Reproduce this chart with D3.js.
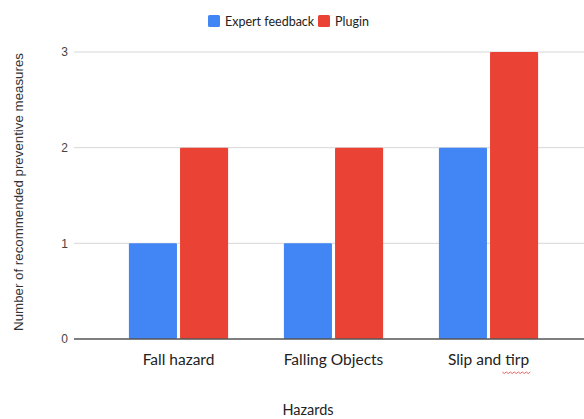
<!DOCTYPE html>
<html>
<head>
<meta charset="utf-8">
<script src="https://cdn.jsdelivr.net/npm/d3@7"></script>
<style>
  html, body { margin: 0; padding: 0; background: #fff; }
  svg { display: block; }
</style>
</head>
<body>
<svg id="chart" width="584" height="419"></svg>
<script>
// Hazard categories and the number of preventive measures per source
const categories = ["Fall hazard", "Falling Objects", "Slip and tirp"];
const seriesNames = ["Expert feedback", "Plugin"];
const expertFeedback = [1, 1, 2];
const plugin = [2, 2, 3];
const yTicks = [0, 1, 2, 3];
const colors = ["#4285F4", "#EA4335"];

const svg = d3.select("#chart");
const W = 584, H = 419;

const y = d3.scaleLinear().domain([0, 3]).range([339, 52]);
const x = d3.scaleBand().domain(categories).range([101, 566]).paddingInner(0.36).paddingOuter(0.18);
const xs = d3.scaleBand().domain(seriesNames).range([0, x.bandwidth()]).paddingInner(0.06);

// Horizontal gridlines
svg.append("g")
  .selectAll("line")
  .data(yTicks.filter(d => d !== 0))
  .join("line")
  .attr("x1", 74).attr("x2", W)
  .attr("y1", d => y(d)).attr("y2", d => y(d))
  .attr("stroke", "#d6d6d6").attr("stroke-width", 1);

// Y tick labels
const yAxis = d3.axisLeft(y).tickValues(yTicks).tickSize(0).tickPadding(0).tickFormat(d3.format("d"));
const gy = svg.append("g").attr("transform", "translate(68,0)").call(yAxis);
gy.select(".domain").remove();
gy.selectAll("text")
  .attr("font-family", "Liberation Sans, Arial, sans-serif")
  .attr("font-size", 12)
  .attr("fill", "#444");

// Bars
const rows = categories.map((c, i) => ({ cat: c, vals: [expertFeedback[i], plugin[i]] }));
svg.append("g")
  .selectAll("g")
  .data(rows)
  .join("g")
  .attr("transform", d => `translate(${x(d.cat)},0)`)
  .selectAll("rect")
  .data(d => d.vals.map((v, j) => ({ name: seriesNames[j], v, j })))
  .join("rect")
  .attr("x", d => xs(d.name))
  .attr("y", d => y(d.v))
  .attr("width", xs.bandwidth())
  .attr("height", d => y(0) - y(d.v))
  .attr("rx", 1)
  .attr("fill", d => colors[d.j]);

// Baseline
svg.append("line")
  .attr("x1", 74).attr("x2", W)
  .attr("y1", y(0)).attr("y2", y(0))
  .attr("stroke", "#555").attr("stroke-width", 1.3);

// Category labels
const xAxis = d3.axisBottom(x).tickSize(0).tickPadding(0);
const gx = svg.append("g").attr("transform", "translate(0,354)").call(xAxis);
gx.select(".domain").remove();
gx.selectAll("text")
  .attr("font-family", "Lato, 'Open Sans', sans-serif")
  .attr("font-size", 15.5)
  .attr("fill", "#222")
  .attr("dy", "0.71em");

// Spell-check squiggle under "tirp"
const lastLabel = gx.selectAll("text").filter(d => d === "Slip and tirp").node();
if (lastLabel) {
  const bb = lastLabel.getBBox();
  const cx = x("Slip and tirp") + x.bandwidth() / 2;
  const x0 = cx + bb.width / 2 - 27, x1 = cx + bb.width / 2;
  const yy = 354 + bb.height;
  let p = `M${x0},${yy}`;
  for (let xx = x0, k = 0; xx < x1; xx += 2, k++) p += ` L${xx + 2},${yy + (k % 2 ? 0 : 1.5)}`;
  svg.append("path").attr("d", p).attr("fill", "none").attr("stroke", "#e04040").attr("stroke-width", 0.8);
}

// Axis titles
svg.append("text")
  .attr("x", 308).attr("y", 415)
  .attr("text-anchor", "middle")
  .attr("font-family", "Lato, 'Open Sans', sans-serif")
  .attr("font-size", 14.5)
  .attr("fill", "#222")
  .text("Hazards");

svg.append("text")
  .attr("transform", "translate(23,192) rotate(-90)")
  .attr("text-anchor", "middle")
  .attr("font-family", "Liberation Sans, Arial, sans-serif")
  .attr("font-size", 13.3)
  .attr("fill", "#333")
  .text("Number of recommended preventive measures");

// Legend
const legend = svg.append("g").attr("transform", "translate(208,15)");
const legendX = [0, 110];
seriesNames.forEach((n, i) => {
  const g = legend.append("g").attr("transform", `translate(${legendX[i]},0)`);
  g.append("rect").attr("width", 12).attr("height", 12).attr("rx", 1.5).attr("fill", colors[i]);
  g.append("text").attr("x", 17).attr("y", 10.5)
    .attr("font-family", "Lato, 'Open Sans', sans-serif")
    .attr("font-size", 12.5)
    .attr("fill", "#222")
    .text(n);
});
</script>
</body>
</html>
